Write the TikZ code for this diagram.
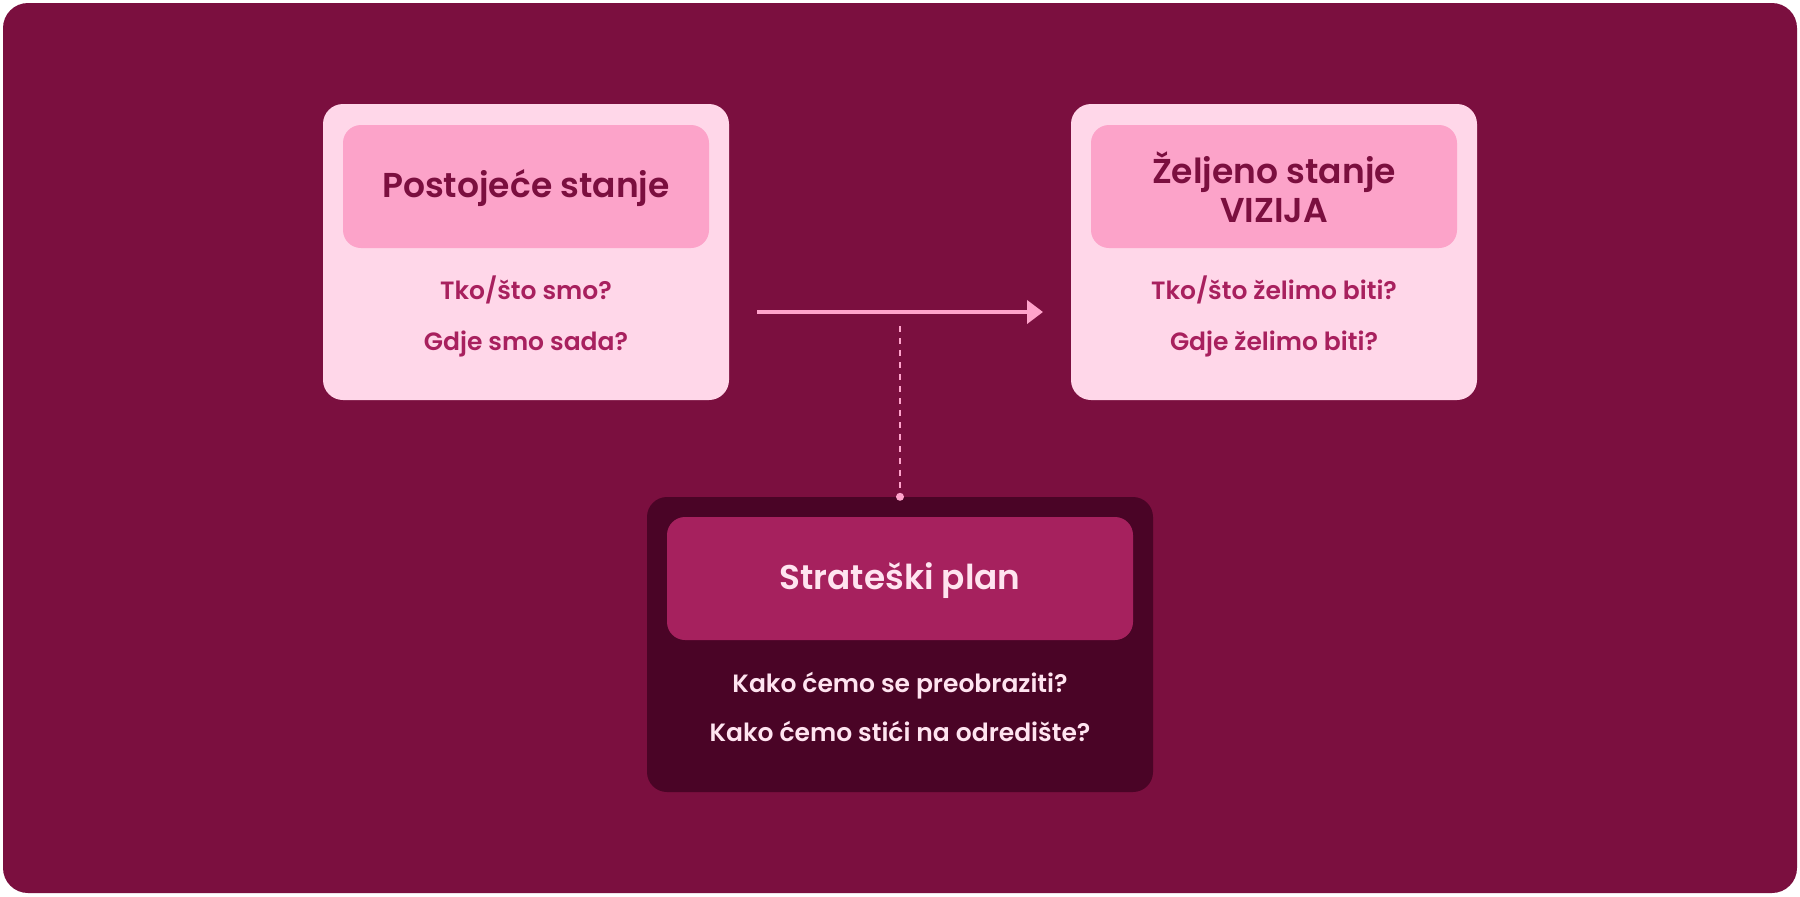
\documentclass[tikz,border=0pt]{standalone}
\usepackage{fontspec}
\setmainfont{Poppins}
\newfontfamily\semib{Poppins SemiBold}
\usetikzlibrary{arrows.meta}
\definecolor{bgc}{HTML}{7B0F3F}
\definecolor{cardl}{HTML}{FFD7E9}
\definecolor{innerp}{HTML}{FCA3C9}
\definecolor{qtext}{HTML}{A8205E}
\definecolor{cardd}{HTML}{4A0426}
\definecolor{innerd}{HTML}{A6215E}
\definecolor{ltext}{HTML}{FFE4F0}
\definecolor{arrowc}{HTML}{FFA3CB}
\tikzset{
  outerbox/.style={rectangle, rounded corners=20pt, minimum width=406pt, minimum height=296pt, inner sep=0pt},
  innerbox/.style={rectangle, rounded corners=18pt, minimum width=366pt, minimum height=123pt, inner sep=0pt},
  titletxt/.style={anchor=base, inner sep=0pt, font=\semib\fontsize{34.5}{40}\selectfont},
  qtxt/.style={anchor=base, inner sep=0pt, font=\semib\fontsize{25}{30}\selectfont},
}
\begin{document}
\begin{tikzpicture}[x=1pt,y=-1pt]
\useasboundingbox (0,0) rectangle (1800,897);
\fill[white] (0,0) rectangle (1800,897);
\fill[bgc, rounded corners=25pt] (3,3) rectangle (1797,893);

% left card
\node[outerbox, fill=cardl] (L) at (526,252) {};
\node[innerbox, fill=innerp] (Li) at (526,186.5) {};
\node[titletxt, text=bgc] (Lt) at (526,197) {Postojeće stanje};
\node[qtxt, text=qtext] (Lq1) at (526,299) {Tko/što smo?};
\node[qtxt, text=qtext] (Lq2) at (526,350) {Gdje smo sada?};

% right card
\node[outerbox, fill=cardl] (R) at (1274,252) {};
\node[innerbox, fill=innerp] (Ri) at (1274,186.5) {};
\node[titletxt, text=bgc] (Rt1) at (1274,183) {Željeno stanje};
\node[titletxt, text=bgc] (Rt2) at (1274,222) {VIZIJA};
\node[qtxt, text=qtext] (Rq1) at (1274,299) {Tko/što želimo biti?};
\node[qtxt, text=qtext] (Rq2) at (1274,350) {Gdje želimo biti?};

% bottom card
\node[outerbox, fill=cardd, minimum width=506pt, minimum height=295pt] (B) at (900,644.5) {};
\node[innerbox, fill=innerd, minimum width=466pt] (Bi) at (900,578.5) {};
\node[titletxt, text=ltext, font=\semib\fontsize{34.3}{40}\selectfont] (Bt) at (900,589) {Strateški plan};
\node[qtxt, text=ltext] (Bq1) at (900,692) {Kako ćemo se preobraziti?};
\node[qtxt, text=ltext] (Bq2) at (900,741) {Kako ćemo stići na odredište?};

% arrow
\coordinate (as) at (757,312);
\coordinate (ae) at (1043,312);
\draw[arrowc, line width=4pt, -{Triangle[length=16pt,width=23pt]}] (as) -- (ae);

% dashed connector
\coordinate (dtop) at (900,326);
\node[circle, fill=arrowc, inner sep=0pt, minimum size=8pt] (dot) at (B.north) {};
\draw[arrowc, line width=2pt, dash pattern=on 6pt off 6pt] (dtop) -- (dot);
\end{tikzpicture}
\end{document}
